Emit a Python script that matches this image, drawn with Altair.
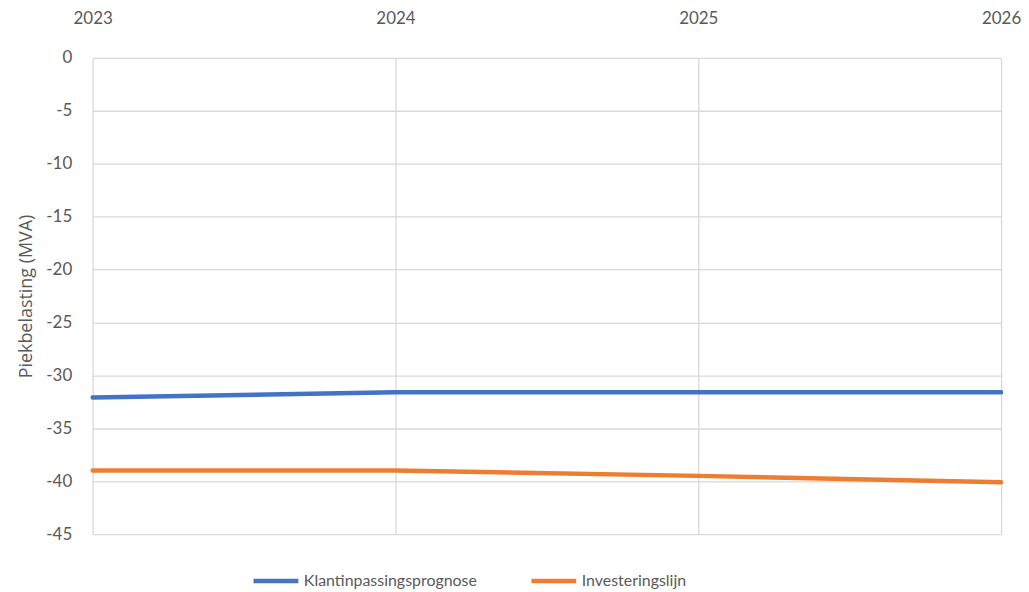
import altair as alt
import pandas as pd

years = [2023, 2024, 2025, 2026]
klant = [-32.1, -31.6, -31.6, -31.6]
invest = [-39.0, -39.0, -39.5, -40.1]
series_names = ["Klantinpassingsprognose", "Investeringslijn"]
colors = ["#4472C4", "#ED7D31"]

df = pd.DataFrame({
    "year": years * 2,
    "value": klant + invest,
    "series": [series_names[0]] * 4 + [series_names[1]] * 4,
})

FONT = "Lato"
TXT = "#595959"

chart = alt.Chart(df).mark_line(strokeWidth=4.5, strokeCap="round").encode(
    x=alt.X("year:Q",
            scale=alt.Scale(domain=[2023, 2026], nice=False, zero=False),
            axis=alt.Axis(orient="top", values=years, format="d", title=None,
                          ticks=False, domain=False, labelPadding=31,
                          labelFontSize=17, labelColor=TXT, labelFont=FONT,
                          gridColor="#d9d9d9", gridWidth=1.3,
                          labelFlush=False)),
    y=alt.Y("value:Q",
            scale=alt.Scale(domain=[-45, 0], nice=False),
            axis=alt.Axis(values=list(range(-45, 1, 5)), title="Piekbelasting (MVA)",
                          labelExpr="datum.value + ''",
                          ticks=False, domain=False, labelPadding=21,
                          labelFontSize=17, labelColor=TXT, labelFont=FONT,
                          titleFontSize=18, titleColor=TXT, titleFont="Open Sans",
                          titleFontWeight="normal", titlePadding=10,
                          gridColor="#d9d9d9", gridWidth=1.3)),
    color=alt.Color("series:N",
                    scale=alt.Scale(domain=series_names, range=colors),
                    sort=series_names,
                    legend=alt.Legend(title=None, orient="none", direction="horizontal",
                                      legendX=159, legendY=500,
                                      symbolType="stroke", symbolSize=2025,
                                      symbolStrokeWidth=4.5, labelFontSize=16,
                                      labelColor=TXT, labelFont=FONT, labelLimit=400,
                                      columnPadding=45, labelOffset=3)),
).properties(
    width=912, height=478,
    padding={"left": 85, "top": 49, "right": 20, "bottom": 55},
    autosize=alt.AutoSizeParams(type="none"),
).configure_view(stroke=None)

chart.save("out.html", embed_options={"renderer": "svg", "actions": False})
